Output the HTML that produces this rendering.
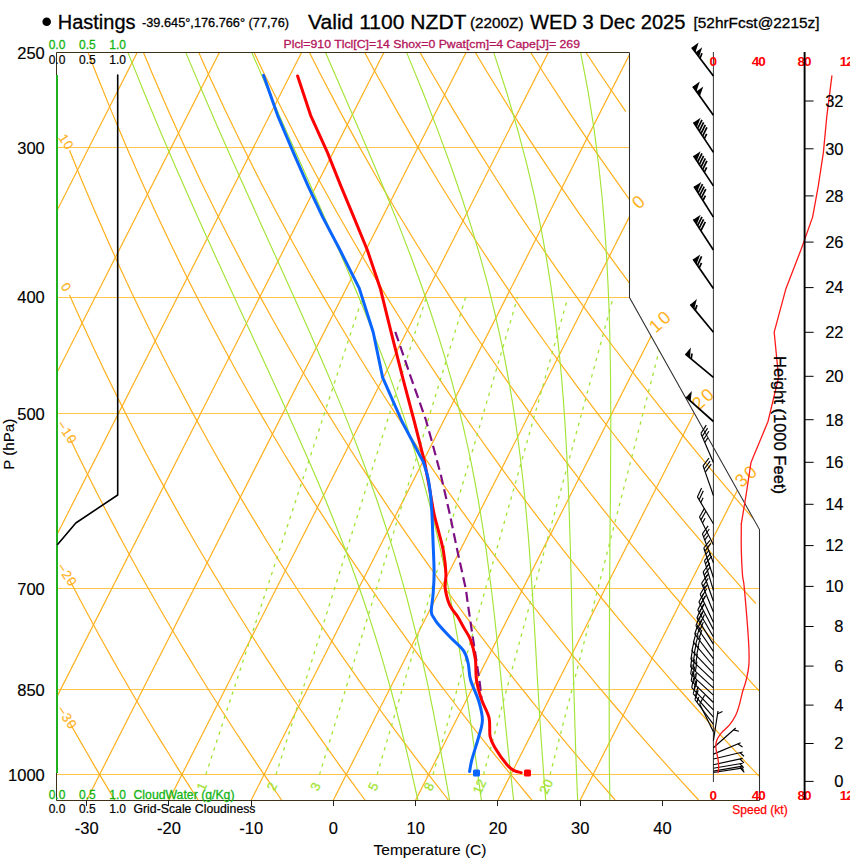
<!DOCTYPE html>
<html><head><meta charset="utf-8"><title>Skew-T Hastings</title>
<style>html,body{margin:0;padding:0;background:#fff;}body{width:850px;height:860px;overflow:hidden;font-family:"Liberation Sans",sans-serif;}svg{display:block;}</style></head>
<body>
<svg width="850" height="860" viewBox="0 0 850 860" font-family="Liberation Sans, sans-serif">
<rect width="850" height="860" fill="#fff"/>
<defs><clipPath id="fr"><polygon points="57.0,800.0 759.1,800.0 759.1,529.6 629.6,297.5 629.6,52.6 57.0,52.6"/></clipPath></defs>
<g clip-path="url(#fr)" fill="none">
<line x1="57.0" y1="147.5" x2="759.1" y2="147.5" stroke="#ffc44d" stroke-width="1"/>
<line x1="57.0" y1="297.5" x2="759.1" y2="297.5" stroke="#ffc44d" stroke-width="1"/>
<line x1="57.0" y1="413.5" x2="759.1" y2="413.5" stroke="#ffc44d" stroke-width="1"/>
<line x1="57.0" y1="588.5" x2="759.1" y2="588.5" stroke="#ffc44d" stroke-width="1"/>
<line x1="57.0" y1="689.5" x2="759.1" y2="689.5" stroke="#ffc44d" stroke-width="1"/>
<line x1="57.0" y1="774.5" x2="759.1" y2="774.5" stroke="#ffc44d" stroke-width="1"/>
<line x1="-653.4" y1="800.0" x2="-263.3" y2="31.4" stroke="#ffb01c" stroke-width="1.2"/>
<line x1="-571.2" y1="800.0" x2="-181.1" y2="31.4" stroke="#ffb01c" stroke-width="1.2"/>
<line x1="-488.9" y1="800.0" x2="-98.9" y2="31.4" stroke="#ffb01c" stroke-width="1.2"/>
<line x1="-406.7" y1="800.0" x2="-16.6" y2="31.4" stroke="#ffb01c" stroke-width="1.2"/>
<line x1="-324.5" y1="800.0" x2="65.6" y2="31.4" stroke="#ffb01c" stroke-width="1.2"/>
<line x1="-242.2" y1="800.0" x2="147.9" y2="31.4" stroke="#ffb01c" stroke-width="1.2"/>
<line x1="-160.0" y1="800.0" x2="230.1" y2="31.4" stroke="#ffb01c" stroke-width="1.2"/>
<line x1="-77.7" y1="800.0" x2="312.3" y2="31.4" stroke="#ffb01c" stroke-width="1.2"/>
<line x1="4.5" y1="800.0" x2="394.6" y2="31.4" stroke="#ffb01c" stroke-width="1.2"/>
<line x1="86.7" y1="800.0" x2="476.8" y2="31.4" stroke="#ffb01c" stroke-width="1.2"/>
<line x1="169.0" y1="800.0" x2="559.0" y2="31.4" stroke="#ffb01c" stroke-width="1.2"/>
<line x1="251.2" y1="800.0" x2="641.3" y2="31.4" stroke="#ffb01c" stroke-width="1.2"/>
<line x1="333.4" y1="800.0" x2="723.5" y2="31.4" stroke="#ffb01c" stroke-width="1.2"/>
<line x1="415.7" y1="800.0" x2="805.7" y2="31.4" stroke="#ffb01c" stroke-width="1.2"/>
<line x1="497.9" y1="800.0" x2="888.0" y2="31.4" stroke="#ffb01c" stroke-width="1.2"/>
<line x1="580.2" y1="800.0" x2="970.2" y2="31.4" stroke="#ffb01c" stroke-width="1.2"/>
<path d="M69.5,722.2 L74.5,731.2 L80.9,742.4 L87.2,753.3 L93.4,764.1 L99.6,774.6 L105.8,784.9 L111.8,795.0 L114.8,800.0" stroke="#ffb01c" stroke-width="1.2"/>
<path d="M69.5,579.8 L74.2,588.8 L82.0,603.5 L89.7,617.8 L97.2,631.7 L104.7,645.2 L112.1,658.4 L119.4,671.2 L126.7,683.8 L133.8,696.0 L140.9,708.0 L147.9,719.7 L154.8,731.2 L161.7,742.4 L168.5,753.3 L175.2,764.1 L181.9,774.6 L188.5,784.9 L195.0,795.0 L198.2,800.0" stroke="#ffb01c" stroke-width="1.2"/>
<path d="M69.5,437.6 L77.3,453.7 L86.6,472.6 L95.9,490.9 L104.9,508.6 L113.9,525.6 L122.7,542.2 L131.4,558.2 L140.0,573.7 L148.5,588.8 L156.9,603.5 L165.1,617.8 L173.3,631.7 L181.3,645.2 L189.3,658.4 L197.1,671.2 L204.9,683.8 L212.6,696.0 L220.2,708.0 L227.7,719.7 L235.1,731.2 L242.5,742.4 L249.8,753.3 L257.0,764.1 L264.1,774.6 L271.2,784.9 L278.1,795.0 L281.6,800.0" stroke="#ffb01c" stroke-width="1.2"/>
<path d="M69.5,294.8 L70.6,297.4 L82.0,322.8 L93.2,347.0 L104.2,370.2 L115.0,392.3 L125.6,413.6 L136.0,434.0 L146.2,453.7 L156.3,472.6 L166.2,490.9 L176.0,508.6 L185.6,525.6 L195.1,542.2 L204.5,558.2 L213.7,573.7 L222.8,588.8 L231.7,603.5 L240.6,617.8 L249.3,631.7 L257.9,645.2 L266.4,658.4 L274.8,671.2 L283.1,683.8 L291.4,696.0 L299.5,708.0 L307.5,719.7 L315.4,731.2 L323.3,742.4 L331.1,753.3 L338.7,764.1 L346.3,774.6 L353.9,784.9 L361.3,795.0 L365.0,800.0" stroke="#ffb01c" stroke-width="1.2"/>
<path d="M69.5,150.2 L82.1,181.2 L95.5,212.8 L108.6,242.5 L121.4,270.7 L133.9,297.4 L146.2,322.8 L158.2,347.0 L170.0,370.2 L181.6,392.3 L193.0,413.6 L204.2,434.0 L215.2,453.7 L226.0,472.6 L236.6,490.9 L247.1,508.6 L257.4,525.6 L267.5,542.2 L277.5,558.2 L287.3,573.7 L297.0,588.8 L306.6,603.5 L316.0,617.8 L325.3,631.7 L334.5,645.2 L343.6,658.4 L352.5,671.2 L361.4,683.8 L370.1,696.0 L378.8,708.0 L387.3,719.7 L395.7,731.2 L404.1,742.4 L412.3,753.3 L420.5,764.1 L428.6,774.6 L436.6,784.9 L444.5,795.0 L448.4,800.0" stroke="#ffb01c" stroke-width="1.2"/>
<path d="M80.0,31.4 L96.0,73.0 L111.6,111.6 L126.7,147.6 L141.5,181.2 L155.9,212.8 L170.0,242.5 L183.7,270.7 L197.2,297.4 L210.4,322.8 L223.3,347.0 L235.9,370.2 L248.3,392.3 L260.5,413.6 L272.4,434.0 L284.1,453.7 L295.7,472.6 L307.0,490.9 L318.1,508.6 L329.1,525.6 L339.9,542.2 L350.5,558.2 L361.0,573.7 L371.3,588.8 L381.4,603.5 L391.5,617.8 L401.4,631.7 L411.1,645.2 L420.7,658.4 L430.2,671.2 L439.6,683.8 L448.9,696.0 L458.0,708.0 L467.1,719.7 L476.0,731.2 L484.9,742.4 L493.6,753.3 L502.3,764.1 L510.8,774.6 L519.3,784.9 L527.6,795.0 L531.8,800.0" stroke="#ffb01c" stroke-width="1.2"/>
<path d="M134.7,31.4 L152.0,73.0 L168.7,111.6 L185.0,147.6 L200.8,181.2 L216.3,212.8 L231.4,242.5 L246.1,270.7 L260.5,297.4 L274.5,322.8 L288.3,347.0 L301.8,370.2 L315.0,392.3 L327.9,413.6 L340.6,434.0 L353.1,453.7 L365.3,472.6 L377.4,490.9 L389.2,508.6 L400.8,525.6 L412.3,542.2 L423.5,558.2 L434.6,573.7 L445.5,588.8 L456.3,603.5 L466.9,617.8 L477.4,631.7 L487.7,645.2 L497.9,658.4 L507.9,671.2 L517.9,683.8 L527.7,696.0 L537.3,708.0 L546.9,719.7 L556.3,731.2 L565.7,742.4 L574.9,753.3 L584.0,764.1 L593.0,774.6 L602.0,784.9 L610.8,795.0 L615.2,800.0" stroke="#ffb01c" stroke-width="1.2"/>
<path d="M189.4,31.4 L207.9,73.0 L225.8,111.6 L243.3,147.6 L260.2,181.2 L276.7,212.8 L292.8,242.5 L308.4,270.7 L323.7,297.4 L338.7,322.8 L353.3,347.0 L367.6,370.2 L381.6,392.3 L395.4,413.6 L408.8,434.0 L422.0,453.7 L435.0,472.6 L447.7,490.9 L460.2,508.6 L472.5,525.6 L484.6,542.2 L496.5,558.2 L508.3,573.7 L519.8,588.8 L531.2,603.5 L542.4,617.8 L553.4,631.7 L564.3,645.2 L575.0,658.4 L585.6,671.2 L596.1,683.8 L606.4,696.0 L616.6,708.0 L626.7,719.7 L636.6,731.2 L646.5,742.4 L656.2,753.3 L665.8,764.1 L675.3,774.6 L684.7,784.9 L694.0,795.0 L698.6,800.0" stroke="#ffb01c" stroke-width="1.2"/>
<path d="M244.1,31.4 L263.8,73.0 L283.0,111.6 L301.5,147.6 L319.6,181.2 L337.1,212.8 L354.2,242.5 L370.8,270.7 L387.0,297.4 L402.9,322.8 L418.3,347.0 L433.5,370.2 L448.3,392.3 L462.8,413.6 L477.0,434.0 L491.0,453.7 L504.7,472.6 L518.1,490.9 L531.3,508.6 L544.3,525.6 L557.0,542.2 L569.6,558.2 L581.9,573.7 L594.1,588.8 L606.0,603.5 L617.8,617.8 L629.4,631.7 L640.9,645.2 L652.2,658.4 L663.3,671.2 L674.3,683.8 L685.2,696.0 L695.9,708.0 L706.5,719.7 L716.9,731.2 L727.3,742.4 L737.5,753.3 L747.5,764.1 L757.5,774.6 L759.0,776.2" stroke="#ffb01c" stroke-width="1.2"/>
<path d="M298.8,31.4 L319.8,73.0 L340.1,111.6 L359.8,147.6 L378.9,181.2 L397.5,212.8 L415.6,242.5 L433.2,270.7 L450.3,297.4 L467.0,322.8 L483.4,347.0 L499.3,370.2 L515.0,392.3 L530.3,413.6 L545.2,434.0 L559.9,453.7 L574.3,472.6 L588.5,490.9 L602.4,508.6 L616.0,525.6 L629.4,542.2 L642.6,558.2 L655.6,573.7 L668.3,588.8 L680.9,603.5 L693.3,617.8 L705.5,631.7 L717.5,645.2 L729.3,658.4 L741.0,671.2 L752.6,683.8 L759.4,691.2" stroke="#ffb01c" stroke-width="1.2"/>
<path d="M353.4,31.4 L375.7,73.0 L397.3,111.6 L418.1,147.6 L438.3,181.2 L457.9,212.8 L477.0,242.5 L495.5,270.7 L513.6,297.4 L531.2,322.8 L548.4,347.0 L565.2,370.2 L581.6,392.3 L597.7,413.6 L613.5,434.0 L628.9,453.7 L644.0,472.6 L658.8,490.9 L673.4,508.6 L687.7,525.6 L701.8,542.2 L715.6,558.2 L729.2,573.7 L742.6,588.8 L755.8,603.5" stroke="#ffb01c" stroke-width="1.2"/>
<path d="M408.1,31.4 L431.7,73.0 L454.4,111.6 L476.4,147.6 L497.7,181.2 L518.3,212.8 L538.4,242.5 L557.9,270.7 L576.9,297.4 L595.4,322.8 L613.4,347.0 L631.1,370.2 L648.3,392.3 L665.2,413.6 L681.7,434.0 L697.8,453.7 L713.7,472.6 L729.2,490.9 L744.5,508.6 L758.0,524.0" stroke="#ffb01c" stroke-width="1.2"/>
<path d="M462.8,31.4 L487.6,73.0 L511.5,111.6 L534.7,147.6 L557.0,181.2 L578.7,212.8 L599.8,242.5 L620.2,270.7 L635.2,290.8" stroke="#ffb01c" stroke-width="1.2"/>
<path d="M517.5,31.4 L543.6,73.0 L568.7,111.6 L592.9,147.6 L616.4,181.2 L632.4,203.5" stroke="#ffb01c" stroke-width="1.2"/>
<path d="M572.1,31.4 L599.5,73.0 L625.8,111.6" stroke="#ffb01c" stroke-width="1.2"/>
<path d="M626.8,31.4 L655.4,73.0 L683.0,111.6 L709.5,147.6 L735.1,181.2 L759.9,212.8 L784.0,242.5 L807.3,270.7 L830.0,297.4 L852.0,322.8 L873.5,347.0 L894.5,370.2 L915.0,392.3 L934.9,413.6 L954.5,434.0 L973.6,453.7 L992.4,472.6 L1010.7,490.9 L1028.7,508.6 L1046.4,525.6 L1063.7,542.2 L1080.7,558.2 L1097.4,573.7 L1113.9,588.8 L1130.1,603.5 L1146.0,617.8 L1161.6,631.7 L1177.1,645.2 L1192.3,658.4 L1207.2,671.2 L1222.0,683.8 L1236.5,696.0 L1250.9,708.0 L1265.0,719.7 L1279.0,731.2 L1292.8,742.4 L1306.4,753.3 L1319.9,764.1 L1333.2,774.6 L1346.3,784.9 L1359.3,795.0 L1365.7,800.0" stroke="#ffb01c" stroke-width="1.2"/>
<path d="M609.9,800.0 L609.7,790.0 L609.6,779.8 L609.4,769.4 L609.3,758.7 L609.3,747.9 L609.2,736.8 L609.2,725.5 L609.2,713.9 L609.2,702.1 L609.2,690.0 L609.2,677.6 L609.3,664.8 L609.3,651.8 L609.4,638.5 L609.5,624.8 L609.5,610.7 L609.6,596.2 L609.6,581.3 L609.8,566.0 L609.9,550.2 L610.0,534.0 L610.2,517.2 L610.4,499.8 L610.5,481.8 L610.6,463.2 L610.7,444.0 L610.8,423.9 L610.7,403.1 L610.6,381.4 L610.3,358.7 L609.8,335.1 L609.1,310.3 L608.0,284.2 L606.6,256.8 L604.7,227.9 L602.1,197.2 L598.6,164.7 L594.2,129.9 L588.3,92.7 L580.7,52.6" stroke="#a3e436" stroke-width="1.15"/>
<path d="M577.7,800.0 L577.2,790.0 L576.8,779.8 L576.4,769.4 L576.0,758.7 L575.6,747.9 L575.3,736.8 L574.9,725.5 L574.6,713.9 L574.2,702.1 L573.9,690.0 L573.5,677.6 L573.2,664.8 L572.8,651.8 L572.5,638.5 L572.1,624.8 L571.8,610.7 L571.5,596.2 L571.2,581.3 L570.8,566.0 L570.4,550.2 L569.9,534.0 L569.4,517.2 L568.8,499.8 L568.1,481.8 L567.2,463.2 L566.2,444.0 L565.0,423.9 L563.6,403.1 L561.9,381.4 L559.8,358.7 L557.3,335.1 L554.2,310.3 L550.6,284.2 L546.2,256.8 L540.9,227.9 L534.6,197.2 L526.9,164.7 L517.7,129.9 L506.8,92.7 L493.8,52.6" stroke="#a3e436" stroke-width="1.15"/>
<path d="M545.7,800.0 L544.9,790.0 L544.1,779.8 L543.3,769.4 L542.6,758.7 L541.8,747.9 L541.0,736.8 L540.3,725.5 L539.5,713.9 L538.8,702.1 L538.1,690.0 L537.3,677.6 L536.6,664.8 L535.9,651.8 L535.1,638.5 L534.3,624.8 L533.5,610.7 L532.6,596.2 L531.6,581.3 L530.5,566.0 L529.4,550.2 L528.1,534.0 L526.6,517.2 L525.0,499.8 L523.1,481.8 L521.0,463.2 L518.6,444.0 L515.8,423.9 L512.6,403.1 L508.9,381.4 L504.7,358.7 L499.8,335.1 L494.2,310.3 L487.7,284.2 L480.2,256.8 L471.6,227.9 L461.7,197.2 L450.4,164.7 L437.6,129.9 L423.1,92.7 L406.7,52.6" stroke="#a3e436" stroke-width="1.15"/>
<path d="M513.6,800.0 L512.5,790.0 L511.4,779.8 L510.2,769.4 L509.1,758.7 L507.9,747.9 L506.8,736.8 L505.6,725.5 L504.5,713.9 L503.3,702.1 L502.1,690.0 L500.9,677.6 L499.6,664.8 L498.3,651.8 L496.9,638.5 L495.4,624.8 L493.9,610.7 L492.2,596.2 L490.3,581.3 L488.3,566.0 L486.2,550.2 L483.8,534.0 L481.1,517.2 L478.2,499.8 L474.9,481.8 L471.3,463.2 L467.2,444.0 L462.6,423.9 L457.5,403.1 L451.8,381.4 L445.3,358.7 L438.1,335.1 L430.0,310.3 L421.0,284.2 L411.0,256.8 L399.8,227.9 L387.5,197.2 L374.0,164.7 L359.2,129.9 L343.0,92.7 L325.5,52.6" stroke="#a3e436" stroke-width="1.15"/>
<path d="M481.4,800.0 L480.0,790.0 L478.6,779.8 L477.2,769.4 L475.7,758.7 L474.3,747.9 L472.7,736.8 L471.1,725.5 L469.4,713.9 L467.6,702.1 L465.8,690.0 L463.9,677.6 L461.9,664.8 L459.8,651.8 L457.6,638.5 L455.2,624.8 L452.7,610.7 L450.0,596.2 L447.1,581.3 L444.0,566.0 L440.6,550.2 L436.9,534.0 L432.9,517.2 L428.4,499.8 L423.6,481.8 L418.3,463.2 L412.5,444.0 L406.2,423.9 L399.2,403.1 L391.6,381.4 L383.2,358.7 L374.1,335.1 L364.2,310.3 L353.4,284.2 L341.8,256.8 L329.2,227.9 L315.7,197.2 L301.3,164.7 L285.8,129.9 L269.3,92.7 L251.8,52.6" stroke="#a3e436" stroke-width="1.15"/>
<path d="M449.6,800.0 L447.8,790.0 L446.0,779.8 L444.1,769.4 L442.1,758.7 L440.2,747.9 L438.1,736.8 L435.9,725.5 L433.7,713.9 L431.3,702.1 L428.9,690.0 L426.2,677.6 L423.4,664.8 L420.4,651.8 L417.2,638.5 L413.8,624.8 L410.2,610.7 L406.4,596.2 L402.3,581.3 L397.9,566.0 L393.2,550.2 L388.1,534.0 L382.6,517.2 L376.8,499.8 L370.4,481.8 L363.6,463.2 L356.3,444.0 L348.4,423.9 L340.0,403.1 L330.9,381.4 L321.2,358.7 L310.9,335.1 L299.9,310.3 L288.2,284.2 L275.8,256.8 L262.7,227.9 L248.9,197.2 L234.3,164.7 L218.9,129.9 L202.8,92.7 L185.8,52.6" stroke="#a3e436" stroke-width="1.15"/>
<path d="M417.9,800.0 L415.6,790.0 L413.3,779.8 L410.9,769.4 L408.4,758.7 L405.8,747.9 L403.1,736.8 L400.3,725.5 L397.3,713.9 L394.2,702.1 L391.0,690.0 L387.5,677.6 L383.9,664.8 L380.1,651.8 L376.0,638.5 L371.7,624.8 L367.1,610.7 L362.2,596.2 L357.0,581.3 L351.5,566.0 L345.6,550.2 L339.2,534.0 L332.5,517.2 L325.4,499.8 L317.9,481.8 L309.9,463.2 L301.4,444.0 L292.5,423.9 L283.1,403.1 L273.2,381.4 L262.8,358.7 L251.8,335.1 L240.3,310.3 L228.3,284.2 L215.7,256.8 L202.6,227.9 L188.9,197.2 L174.6,164.7 L159.7,129.9 L144.2,92.7 L128.0,52.6" stroke="#a3e436" stroke-width="1.15"/>
<line x1="550.1" y1="774.6" x2="672.8" y2="297.4" stroke="#a3e436" stroke-width="1.3" stroke-dasharray="3.4 5"/>
<line x1="483.5" y1="774.6" x2="613.2" y2="297.4" stroke="#a3e436" stroke-width="1.3" stroke-dasharray="3.4 5"/>
<line x1="433.0" y1="774.6" x2="567.9" y2="297.4" stroke="#a3e436" stroke-width="1.3" stroke-dasharray="3.4 5"/>
<line x1="377.1" y1="774.6" x2="517.6" y2="297.4" stroke="#a3e436" stroke-width="1.3" stroke-dasharray="3.4 5"/>
<line x1="319.5" y1="774.6" x2="465.6" y2="297.4" stroke="#a3e436" stroke-width="1.3" stroke-dasharray="3.4 5"/>
<line x1="276.0" y1="774.6" x2="426.2" y2="297.4" stroke="#a3e436" stroke-width="1.3" stroke-dasharray="3.4 5"/>
<line x1="205.8" y1="774.6" x2="362.5" y2="297.4" stroke="#a3e436" stroke-width="1.3" stroke-dasharray="3.4 5"/>
</g>
<text x="0" y="0" transform="translate(546.1,786.6) rotate(-65)" font-size="13" fill="#a3e436" text-anchor="middle" dominant-baseline="central" stroke="#a3e436" stroke-width="0.3">20</text>
<text x="0" y="0" transform="translate(479.5,786.6) rotate(-65)" font-size="13" fill="#a3e436" text-anchor="middle" dominant-baseline="central" stroke="#a3e436" stroke-width="0.3">12</text>
<text x="0" y="0" transform="translate(429.0,786.6) rotate(-65)" font-size="13" fill="#a3e436" text-anchor="middle" dominant-baseline="central" stroke="#a3e436" stroke-width="0.3">8</text>
<text x="0" y="0" transform="translate(373.1,786.6) rotate(-65)" font-size="13" fill="#a3e436" text-anchor="middle" dominant-baseline="central" stroke="#a3e436" stroke-width="0.3">5</text>
<text x="0" y="0" transform="translate(315.5,786.6) rotate(-65)" font-size="13" fill="#a3e436" text-anchor="middle" dominant-baseline="central" stroke="#a3e436" stroke-width="0.3">3</text>
<text x="0" y="0" transform="translate(272.0,786.6) rotate(-65)" font-size="13" fill="#a3e436" text-anchor="middle" dominant-baseline="central" stroke="#a3e436" stroke-width="0.3">2</text>
<text x="0" y="0" transform="translate(201.8,786.6) rotate(-65)" font-size="13" fill="#a3e436" text-anchor="middle" dominant-baseline="central" stroke="#a3e436" stroke-width="0.3">1</text>
<text transform="translate(67.0,717.7) rotate(56)" font-size="13.2" fill="#ffb01c" letter-spacing="1" text-anchor="middle" dominant-baseline="central" stroke="#ffb01c" stroke-width="0.15">−30</text>
<text transform="translate(67.0,575.0) rotate(56)" font-size="13.2" fill="#ffb01c" letter-spacing="1" text-anchor="middle" dominant-baseline="central" stroke="#ffb01c" stroke-width="0.15">−20</text>
<text transform="translate(67.0,432.4) rotate(56)" font-size="13.2" fill="#ffb01c" letter-spacing="1" text-anchor="middle" dominant-baseline="central" stroke="#ffb01c" stroke-width="0.15">−10</text>
<text transform="translate(66.3,287.4) rotate(56)" font-size="13.2" fill="#ffb01c" letter-spacing="1" text-anchor="middle" dominant-baseline="central" stroke="#ffb01c" stroke-width="0.15">0</text>
<text transform="translate(66.3,142.1) rotate(56)" font-size="13.2" fill="#ffb01c" letter-spacing="1" text-anchor="middle" dominant-baseline="central" stroke="#ffb01c" stroke-width="0.15">10</text>
<text transform="translate(639.1,201.6) rotate(-42)" font-size="18" fill="#ffb01c" text-anchor="middle" letter-spacing="2" dominant-baseline="central">0</text>
<text transform="translate(660.6,321.2) rotate(-42)" font-size="18" fill="#ffb01c" text-anchor="middle" letter-spacing="2" dominant-baseline="central">10</text>
<text transform="translate(703.7,398.5) rotate(-42)" font-size="18" fill="#ffb01c" text-anchor="middle" letter-spacing="2" dominant-baseline="central">20</text>
<text transform="translate(746.7,475.7) rotate(-42)" font-size="18" fill="#ffb01c" text-anchor="middle" letter-spacing="2" dominant-baseline="central">30</text>
<polyline points="759.5,800.5 56.5,800.5 56.5,52.5 629.5,52.5" fill="none" stroke="#3c3018" stroke-width="1"/>
<polyline points="629.5,52.5 629.5,297.5 759.5,529.6 759.5,800.5" fill="none" stroke="#303030" stroke-width="1.05"/>
<line x1="57" y1="75" x2="57" y2="773" stroke="#1fb01f" stroke-width="2"/>
<path d="M117.7,75.0 L117.7,495.0 L75.8,523.0 L57.6,544.5" fill="none" stroke="#000" stroke-width="1.6" stroke-linejoin="round" stroke-linecap="round" />
<path d="M395.3,331.8 L410.6,376.5 L425.9,420.0 L431.5,440.0 L441.2,476.5 L450.0,515.0 L457.6,551.8 L465.9,589.4 L468.0,605.0 L470.5,622.0 L471.8,630.6 L476.5,661.2 L480.0,684.7 L481.6,698.8" fill="none" stroke="#7d0f82" stroke-width="2.2" stroke-dasharray="10 5"/>
<path d="M297.6,76.0 L310.6,115.3 L327.4,152.4 L340.8,185.9 L353.8,217.1 L367.3,250.0 L380.3,288.4 L391.1,332.2 L402.6,377.4 L414.3,421.5 L424.7,462.4" fill="none" stroke="#ff0000" stroke-width="3.0" stroke-linejoin="round" stroke-linecap="round" />
<path d="M424.7,462.4 C425.2,465.3 426.9,474.2 428.0,480.0 C429.1,485.8 430.0,491.3 431.0,497.0 C432.0,502.7 432.8,508.1 434.1,514.1 C435.4,520.1 437.4,526.7 439.0,533.0 C440.6,539.3 442.4,545.1 443.5,551.8 C444.6,558.4 445.6,566.8 445.9,572.9 C446.2,579.0 444.8,583.5 445.2,588.2 C445.6,592.9 447.1,597.7 448.2,601.2 C449.3,604.7 450.4,606.5 452.0,609.0 C453.6,611.5 455.6,613.3 457.6,616.5 C459.6,619.7 461.8,624.1 464.0,628.0 C466.2,631.9 468.7,634.9 470.6,640.0 C472.5,645.1 474.3,652.1 475.3,658.8 C476.3,665.5 475.5,673.3 476.5,680.0 C477.5,686.7 479.1,692.5 481.2,698.8 C483.3,705.1 487.5,711.3 489.0,717.6 C490.5,723.9 489.1,731.4 490.1,736.5 C491.2,741.6 492.5,743.5 495.3,748.2 C498.1,752.9 503.9,761.0 507.0,764.7 C510.1,768.4 511.7,769.3 514.1,770.6 C516.5,771.9 520.0,772.3 521.2,772.6" fill="none" stroke="#ff0000" stroke-width="3.0" stroke-linejoin="round" stroke-linecap="round" />
<path d="M263.5,75.3 L277.6,115.3 L293.3,152.4 L308.0,185.9 L322.7,217.1 L340.0,250.0 L359.3,288.4 L373.2,332.2 L382.6,377.4 L402.0,421.5 L423.5,462.4" fill="none" stroke="#0a64ff" stroke-width="3.0" stroke-linejoin="round" stroke-linecap="round" />
<path d="M423.5,462.4 C424.2,465.0 426.8,472.5 428.0,478.0 C429.2,483.5 429.9,489.1 430.6,495.3 C431.3,501.5 431.6,507.9 432.0,515.0 C432.4,522.0 432.5,528.0 432.9,537.6 C433.2,547.2 434.1,563.3 434.1,572.9 C434.1,582.5 433.5,588.5 433.0,595.0 C432.5,601.5 431.1,608.0 431.3,611.8 C431.5,615.6 432.9,616.0 434.0,618.0 C435.1,620.0 434.9,620.3 437.6,623.5 C440.3,626.7 445.7,632.5 450.0,637.0 C454.3,641.5 460.5,646.2 463.5,650.6 C466.5,655.0 467.0,658.6 468.2,663.5 C469.4,668.4 468.8,673.7 470.6,680.0 C472.4,686.3 476.8,694.5 478.8,701.2 C480.8,707.9 482.4,714.1 482.4,720.0 C482.4,725.9 480.6,729.8 478.8,736.5 C477.0,743.2 473.3,754.2 471.8,760.0 C470.3,765.8 470.0,769.6 469.6,771.5" fill="none" stroke="#0a64ff" stroke-width="3.0" stroke-linejoin="round" stroke-linecap="round" />
<rect x="473" y="769.5" width="7" height="7" rx="1.5" fill="#0a64ff"/>
<rect x="524" y="769.5" width="7" height="7" rx="1.5" fill="#ff0000"/>
<line x1="713.4" y1="52" x2="713.4" y2="782" stroke="#333" stroke-width="1"/>
<line x1="713.4" y1="75.9" x2="691.8" y2="47.6" stroke="#000" stroke-width="1.7"/>
<polygon points="691.8,47.6 698.6,42.4 695.4,52.4" fill="#000"/>
<polygon points="695.4,52.4 702.2,47.2 699.1,57.1" fill="#000"/>
<line x1="700.0" y1="58.3" x2="702.0" y2="53.3" stroke="#000" stroke-width="1.7"/>
<line x1="713.4" y1="115.3" x2="692.9" y2="86.5" stroke="#000" stroke-width="1.7"/>
<polygon points="692.9,86.5 699.8,81.6 696.4,91.4" fill="#000"/>
<polygon points="696.4,91.4 703.3,86.5 699.9,96.3" fill="#000"/>
<line x1="713.4" y1="152.4" x2="693.5" y2="122.4" stroke="#000" stroke-width="1.7"/>
<polygon points="693.5,122.4 700.6,117.7 696.8,127.4" fill="#000"/>
<line x1="697.6" y1="128.6" x2="702.0" y2="119.8" stroke="#000" stroke-width="1.7"/>
<line x1="699.3" y1="131.1" x2="703.6" y2="122.3" stroke="#000" stroke-width="1.7"/>
<line x1="701.0" y1="133.6" x2="705.3" y2="124.8" stroke="#000" stroke-width="1.7"/>
<line x1="702.6" y1="136.1" x2="706.9" y2="127.3" stroke="#000" stroke-width="1.7"/>
<line x1="704.3" y1="138.6" x2="706.7" y2="133.8" stroke="#000" stroke-width="1.7"/>
<line x1="713.4" y1="185.9" x2="693.5" y2="155.9" stroke="#000" stroke-width="1.7"/>
<polygon points="693.5,155.9 700.6,151.2 696.8,160.9" fill="#000"/>
<line x1="697.6" y1="162.1" x2="702.0" y2="153.3" stroke="#000" stroke-width="1.7"/>
<line x1="699.3" y1="164.6" x2="703.6" y2="155.8" stroke="#000" stroke-width="1.7"/>
<line x1="701.0" y1="167.1" x2="705.3" y2="158.3" stroke="#000" stroke-width="1.7"/>
<line x1="702.6" y1="169.6" x2="706.9" y2="160.8" stroke="#000" stroke-width="1.7"/>
<line x1="704.3" y1="172.1" x2="706.7" y2="167.3" stroke="#000" stroke-width="1.7"/>
<line x1="713.4" y1="217.1" x2="694.1" y2="186.5" stroke="#000" stroke-width="1.7"/>
<polygon points="694.1,186.5 701.3,182.0 697.3,191.6" fill="#000"/>
<line x1="698.1" y1="192.8" x2="702.6" y2="184.1" stroke="#000" stroke-width="1.7"/>
<line x1="699.7" y1="195.4" x2="704.2" y2="186.6" stroke="#000" stroke-width="1.7"/>
<line x1="701.3" y1="197.9" x2="705.8" y2="189.2" stroke="#000" stroke-width="1.7"/>
<line x1="702.9" y1="200.5" x2="705.4" y2="195.6" stroke="#000" stroke-width="1.7"/>
<line x1="713.4" y1="250.0" x2="693.5" y2="219.4" stroke="#000" stroke-width="1.7"/>
<polygon points="693.5,219.4 700.6,214.8 696.8,224.4" fill="#000"/>
<line x1="697.6" y1="225.7" x2="702.0" y2="216.9" stroke="#000" stroke-width="1.7"/>
<line x1="699.2" y1="228.2" x2="703.6" y2="219.4" stroke="#000" stroke-width="1.7"/>
<line x1="700.9" y1="230.7" x2="705.3" y2="221.9" stroke="#000" stroke-width="1.7"/>
<line x1="713.4" y1="288.4" x2="693.2" y2="259.2" stroke="#000" stroke-width="1.7"/>
<polygon points="693.2,259.2 700.2,254.4 696.6,264.1" fill="#000"/>
<line x1="697.5" y1="265.4" x2="701.6" y2="256.4" stroke="#000" stroke-width="1.7"/>
<line x1="699.2" y1="267.8" x2="701.5" y2="262.9" stroke="#000" stroke-width="1.7"/>
<line x1="713.4" y1="332.2" x2="690.4" y2="304.4" stroke="#000" stroke-width="1.7"/>
<polygon points="690.4,304.4 696.9,299.0 694.2,309.0" fill="#000"/>
<line x1="695.2" y1="310.2" x2="697.0" y2="305.1" stroke="#000" stroke-width="1.7"/>
<line x1="713.4" y1="377.4" x2="685.4" y2="354.1" stroke="#000" stroke-width="1.7"/>
<polygon points="685.4,354.1 690.8,347.6 690.0,357.9" fill="#000"/>
<line x1="691.2" y1="358.9" x2="692.0" y2="353.5" stroke="#000" stroke-width="1.7"/>
<line x1="713.4" y1="421.5" x2="686.1" y2="397.2" stroke="#000" stroke-width="1.7"/>
<polygon points="686.1,397.2 691.8,390.9 690.6,401.2" fill="#000"/>
<line x1="713.4" y1="462.4" x2="700.9" y2="433.4" stroke="#000" stroke-width="1.15"/>
<line x1="700.9" y1="433.4" x2="706.3" y2="425.1" stroke="#000" stroke-width="1.15"/>
<line x1="702.2" y1="436.4" x2="707.6" y2="428.1" stroke="#000" stroke-width="1.15"/>
<line x1="703.5" y1="439.5" x2="708.9" y2="431.2" stroke="#000" stroke-width="1.15"/>
<line x1="704.8" y1="442.5" x2="707.8" y2="437.9" stroke="#000" stroke-width="1.15"/>
<line x1="713.4" y1="495.5" x2="703.1" y2="465.9" stroke="#000" stroke-width="1.15"/>
<line x1="703.1" y1="465.9" x2="709.0" y2="458.0" stroke="#000" stroke-width="1.15"/>
<line x1="704.2" y1="469.0" x2="710.1" y2="461.1" stroke="#000" stroke-width="1.15"/>
<line x1="705.3" y1="472.1" x2="711.2" y2="464.2" stroke="#000" stroke-width="1.15"/>
<line x1="713.4" y1="523.8" x2="697.4" y2="496.9" stroke="#000" stroke-width="1.15"/>
<line x1="697.4" y1="496.9" x2="701.6" y2="488.0" stroke="#000" stroke-width="1.15"/>
<line x1="699.1" y1="499.7" x2="703.3" y2="490.8" stroke="#000" stroke-width="1.15"/>
<line x1="700.8" y1="502.6" x2="703.1" y2="497.7" stroke="#000" stroke-width="1.15"/>
<line x1="713.4" y1="544.7" x2="699.5" y2="517.0" stroke="#000" stroke-width="1.15"/>
<line x1="699.5" y1="517.0" x2="704.4" y2="508.4" stroke="#000" stroke-width="1.15"/>
<line x1="701.0" y1="519.9" x2="705.8" y2="511.3" stroke="#000" stroke-width="1.15"/>
<line x1="702.5" y1="522.9" x2="705.1" y2="518.2" stroke="#000" stroke-width="1.15"/>
<line x1="713.4" y1="562.9" x2="702.4" y2="533.9" stroke="#000" stroke-width="1.15"/>
<line x1="702.4" y1="533.9" x2="708.1" y2="525.9" stroke="#000" stroke-width="1.15"/>
<line x1="703.6" y1="537.0" x2="709.3" y2="529.0" stroke="#000" stroke-width="1.15"/>
<line x1="704.7" y1="540.1" x2="707.9" y2="535.7" stroke="#000" stroke-width="1.15"/>
<line x1="713.4" y1="577.5" x2="703.8" y2="548.0" stroke="#000" stroke-width="1.15"/>
<line x1="703.8" y1="548.0" x2="709.9" y2="540.3" stroke="#000" stroke-width="1.15"/>
<line x1="704.8" y1="551.2" x2="710.9" y2="543.4" stroke="#000" stroke-width="1.15"/>
<line x1="705.8" y1="554.3" x2="709.2" y2="550.0" stroke="#000" stroke-width="1.15"/>
<line x1="713.4" y1="590.4" x2="704.5" y2="560.7" stroke="#000" stroke-width="1.15"/>
<line x1="704.5" y1="560.7" x2="710.8" y2="553.1" stroke="#000" stroke-width="1.15"/>
<line x1="705.4" y1="563.9" x2="711.7" y2="556.2" stroke="#000" stroke-width="1.15"/>
<line x1="706.4" y1="567.0" x2="709.8" y2="562.8" stroke="#000" stroke-width="1.15"/>
<line x1="713.4" y1="601.2" x2="703.1" y2="572.0" stroke="#000" stroke-width="1.15"/>
<line x1="703.1" y1="572.0" x2="709.0" y2="564.0" stroke="#000" stroke-width="1.15"/>
<line x1="704.2" y1="575.1" x2="710.1" y2="567.2" stroke="#000" stroke-width="1.15"/>
<line x1="705.3" y1="578.2" x2="708.5" y2="573.8" stroke="#000" stroke-width="1.15"/>
<line x1="713.4" y1="612.0" x2="701.6" y2="583.3" stroke="#000" stroke-width="1.15"/>
<line x1="701.6" y1="583.3" x2="707.1" y2="575.1" stroke="#000" stroke-width="1.15"/>
<line x1="702.9" y1="586.4" x2="708.3" y2="578.2" stroke="#000" stroke-width="1.15"/>
<line x1="704.1" y1="589.4" x2="707.1" y2="584.9" stroke="#000" stroke-width="1.15"/>
<line x1="713.4" y1="622.2" x2="700.2" y2="594.2" stroke="#000" stroke-width="1.15"/>
<line x1="700.2" y1="594.2" x2="705.3" y2="585.7" stroke="#000" stroke-width="1.15"/>
<line x1="701.6" y1="597.1" x2="706.7" y2="588.7" stroke="#000" stroke-width="1.15"/>
<line x1="703.0" y1="600.1" x2="705.8" y2="595.5" stroke="#000" stroke-width="1.15"/>
<line x1="713.4" y1="629.5" x2="698.9" y2="602.1" stroke="#000" stroke-width="1.15"/>
<line x1="698.9" y1="602.1" x2="703.6" y2="593.4" stroke="#000" stroke-width="1.15"/>
<line x1="700.4" y1="605.0" x2="705.1" y2="596.3" stroke="#000" stroke-width="1.15"/>
<line x1="702.0" y1="607.9" x2="704.6" y2="603.2" stroke="#000" stroke-width="1.15"/>
<line x1="713.4" y1="636.8" x2="697.8" y2="610.0" stroke="#000" stroke-width="1.15"/>
<line x1="697.8" y1="610.0" x2="702.1" y2="601.2" stroke="#000" stroke-width="1.15"/>
<line x1="699.4" y1="612.9" x2="703.7" y2="604.0" stroke="#000" stroke-width="1.15"/>
<line x1="701.1" y1="615.7" x2="703.5" y2="610.8" stroke="#000" stroke-width="1.15"/>
<line x1="713.4" y1="644.1" x2="696.9" y2="617.9" stroke="#000" stroke-width="1.15"/>
<line x1="696.9" y1="617.9" x2="700.9" y2="608.9" stroke="#000" stroke-width="1.15"/>
<line x1="698.6" y1="620.7" x2="702.6" y2="611.6" stroke="#000" stroke-width="1.15"/>
<line x1="700.4" y1="623.5" x2="704.4" y2="614.4" stroke="#000" stroke-width="1.15"/>
<line x1="713.4" y1="651.4" x2="695.9" y2="625.8" stroke="#000" stroke-width="1.15"/>
<line x1="695.9" y1="625.8" x2="699.6" y2="616.6" stroke="#000" stroke-width="1.15"/>
<line x1="697.8" y1="628.5" x2="701.5" y2="619.4" stroke="#000" stroke-width="1.15"/>
<line x1="699.6" y1="631.2" x2="703.3" y2="622.1" stroke="#000" stroke-width="1.15"/>
<line x1="713.4" y1="658.7" x2="694.7" y2="634.0" stroke="#000" stroke-width="1.15"/>
<line x1="694.7" y1="634.0" x2="697.9" y2="624.7" stroke="#000" stroke-width="1.15"/>
<line x1="696.7" y1="636.6" x2="699.9" y2="627.3" stroke="#000" stroke-width="1.15"/>
<line x1="698.7" y1="639.3" x2="701.9" y2="629.9" stroke="#000" stroke-width="1.15"/>
<line x1="713.4" y1="666.0" x2="693.4" y2="642.3" stroke="#000" stroke-width="1.15"/>
<line x1="693.4" y1="642.3" x2="696.1" y2="632.8" stroke="#000" stroke-width="1.15"/>
<line x1="695.5" y1="644.8" x2="698.2" y2="635.3" stroke="#000" stroke-width="1.15"/>
<line x1="697.7" y1="647.4" x2="700.4" y2="637.9" stroke="#000" stroke-width="1.15"/>
<line x1="713.4" y1="673.3" x2="691.9" y2="650.9" stroke="#000" stroke-width="1.15"/>
<line x1="691.9" y1="650.9" x2="694.0" y2="641.3" stroke="#000" stroke-width="1.15"/>
<line x1="694.2" y1="653.3" x2="696.3" y2="643.7" stroke="#000" stroke-width="1.15"/>
<line x1="696.5" y1="655.7" x2="698.6" y2="646.1" stroke="#000" stroke-width="1.15"/>
<line x1="713.4" y1="680.6" x2="690.9" y2="659.3" stroke="#000" stroke-width="1.15"/>
<line x1="690.9" y1="659.3" x2="692.5" y2="649.6" stroke="#000" stroke-width="1.15"/>
<line x1="693.3" y1="661.6" x2="694.9" y2="651.8" stroke="#000" stroke-width="1.15"/>
<line x1="695.7" y1="663.8" x2="697.3" y2="654.1" stroke="#000" stroke-width="1.15"/>
<line x1="713.4" y1="687.9" x2="690.6" y2="666.9" stroke="#000" stroke-width="1.15"/>
<line x1="690.6" y1="666.9" x2="692.0" y2="657.2" stroke="#000" stroke-width="1.15"/>
<line x1="693.0" y1="669.2" x2="694.5" y2="659.4" stroke="#000" stroke-width="1.15"/>
<line x1="695.4" y1="671.4" x2="696.9" y2="661.6" stroke="#000" stroke-width="1.15"/>
<line x1="713.4" y1="695.2" x2="690.7" y2="674.1" stroke="#000" stroke-width="1.15"/>
<line x1="690.7" y1="674.1" x2="692.2" y2="664.4" stroke="#000" stroke-width="1.15"/>
<line x1="693.1" y1="676.4" x2="694.6" y2="666.6" stroke="#000" stroke-width="1.15"/>
<line x1="695.5" y1="678.6" x2="696.4" y2="673.2" stroke="#000" stroke-width="1.15"/>
<line x1="713.4" y1="702.5" x2="691.2" y2="680.9" stroke="#000" stroke-width="1.15"/>
<line x1="691.2" y1="680.9" x2="693.0" y2="671.2" stroke="#000" stroke-width="1.15"/>
<line x1="693.6" y1="683.2" x2="695.3" y2="673.5" stroke="#000" stroke-width="1.15"/>
<line x1="695.9" y1="685.5" x2="696.9" y2="680.1" stroke="#000" stroke-width="1.15"/>
<line x1="713.4" y1="709.8" x2="691.7" y2="687.6" stroke="#000" stroke-width="1.15"/>
<line x1="691.7" y1="687.6" x2="693.7" y2="678.0" stroke="#000" stroke-width="1.15"/>
<line x1="694.0" y1="690.0" x2="696.0" y2="680.3" stroke="#000" stroke-width="1.15"/>
<line x1="713.4" y1="717.1" x2="693.2" y2="693.6" stroke="#000" stroke-width="1.15"/>
<line x1="693.2" y1="693.6" x2="695.9" y2="684.1" stroke="#000" stroke-width="1.15"/>
<line x1="695.4" y1="696.1" x2="698.0" y2="686.6" stroke="#000" stroke-width="1.15"/>
<line x1="713.4" y1="724.4" x2="694.9" y2="699.5" stroke="#000" stroke-width="1.15"/>
<line x1="694.9" y1="699.5" x2="698.2" y2="690.2" stroke="#000" stroke-width="1.15"/>
<line x1="696.9" y1="702.2" x2="698.7" y2="697.0" stroke="#000" stroke-width="1.15"/>
<line x1="713.4" y1="731.7" x2="699.7" y2="703.9" stroke="#000" stroke-width="1.15"/>
<line x1="699.7" y1="703.9" x2="704.6" y2="695.3" stroke="#000" stroke-width="1.15"/>
<line x1="713.4" y1="740.7" x2="718.0" y2="711.0" stroke="#000" stroke-width="1.15"/>
<line x1="717.6" y1="713.8" x2="722.5" y2="711.5" stroke="#000" stroke-width="1.15"/>
<line x1="713.4" y1="747.8" x2="735.7" y2="728.0" stroke="#000" stroke-width="1.15"/>
<line x1="733.6" y1="729.9" x2="738.9" y2="731.2" stroke="#000" stroke-width="1.15"/>
<line x1="713.4" y1="754.1" x2="740.6" y2="742.8" stroke="#000" stroke-width="1.15"/>
<line x1="738.0" y1="743.9" x2="742.5" y2="746.9" stroke="#000" stroke-width="1.15"/>
<line x1="713.4" y1="759.0" x2="742.7" y2="752.0" stroke="#000" stroke-width="1.15"/>
<line x1="740.0" y1="752.7" x2="744.0" y2="756.3" stroke="#000" stroke-width="1.15"/>
<line x1="713.4" y1="764.7" x2="742.7" y2="758.4" stroke="#000" stroke-width="1.15"/>
<line x1="740.0" y1="759.0" x2="743.9" y2="762.8" stroke="#000" stroke-width="1.15"/>
<line x1="713.4" y1="768.2" x2="742.7" y2="763.3" stroke="#000" stroke-width="1.15"/>
<line x1="739.9" y1="763.8" x2="743.7" y2="767.7" stroke="#000" stroke-width="1.15"/>
<line x1="713.4" y1="771.1" x2="742.7" y2="766.1" stroke="#000" stroke-width="1.15"/>
<line x1="739.9" y1="766.6" x2="743.7" y2="770.5" stroke="#000" stroke-width="1.15"/>
<line x1="713.4" y1="772.5" x2="743.4" y2="767.9" stroke="#000" stroke-width="1.15"/>
<line x1="740.6" y1="768.3" x2="744.3" y2="772.3" stroke="#000" stroke-width="1.15"/>
<path d="M831.9,75.9 L826.9,115.3 L823.4,152.4 L818.3,185.9 L812.6,217.1 L800.9,250.0 L786.0,288.4 L774.2,332.2 L778.6,377.4 L768.0,421.5 L751.0,462.4 L746.0,495.5 L741.3,523.8" fill="none" stroke="#ff1a1a" stroke-width="1.3" stroke-linejoin="round" stroke-linecap="round" />
<path d="M741.3,523.8 C741.3,528.2 741.1,541.8 741.3,550.3 C741.5,558.8 742.0,568.7 742.5,575.0 C743.0,581.3 743.3,577.0 744.3,587.9 C745.3,598.8 747.7,627.4 748.5,640.2 C749.3,653.0 749.3,658.0 748.9,664.6 C748.5,671.2 747.2,675.5 746.2,680.0 C745.2,684.5 743.9,687.1 742.7,691.3 C741.5,695.5 740.4,701.4 739.2,705.4 C738.0,709.4 737.4,712.0 735.7,715.3 C734.1,718.6 731.8,722.2 729.3,725.2 C726.8,728.2 722.9,731.0 720.8,733.6 C718.7,736.2 717.4,738.3 716.6,740.7 C715.8,743.1 715.7,744.7 715.9,747.8 C716.1,750.9 717.5,755.8 718.0,759.1 C718.5,762.4 718.7,765.3 718.7,767.5 C718.7,769.7 718.1,771.7 718.0,772.5" fill="none" stroke="#ff1a1a" stroke-width="1.3" stroke-linejoin="round" stroke-linecap="round" />
<text x="712.6999999999999" y="65.8" font-size="13.5" font-weight="bold" fill="#ff0000" text-anchor="middle" letter-spacing="-1">0</text>
<text x="712.6999999999999" y="799.8" font-size="13.5" font-weight="bold" fill="#ff0000" text-anchor="middle" letter-spacing="-1">0</text>
<text x="758.3" y="65.8" font-size="13.5" font-weight="bold" fill="#ff0000" text-anchor="middle" letter-spacing="-1">40</text>
<text x="758.3" y="799.8" font-size="13.5" font-weight="bold" fill="#ff0000" text-anchor="middle" letter-spacing="-1">40</text>
<text x="803.9" y="65.8" font-size="13.5" font-weight="bold" fill="#ff0000" text-anchor="middle" letter-spacing="-1">80</text>
<text x="803.9" y="799.8" font-size="13.5" font-weight="bold" fill="#ff0000" text-anchor="middle" letter-spacing="-1">80</text>
<text x="849.5" y="65.8" font-size="13.5" font-weight="bold" fill="#ff0000" text-anchor="middle" letter-spacing="-1">120</text>
<text x="849.5" y="799.8" font-size="13.5" font-weight="bold" fill="#ff0000" text-anchor="middle" letter-spacing="-1">120</text>
<text x="760" y="813.5" font-size="12" fill="#ff0000" text-anchor="middle" stroke="#ff0000" stroke-width="0.25">Speed (kt)</text>
<line x1="804.6" y1="52" x2="804.6" y2="800" stroke="#000" stroke-width="1.9"/>
<line x1="804.6" y1="781.4" x2="813.6" y2="781.4" stroke="#000" stroke-width="1"/>
<text x="843.5" y="787.2" font-size="16.5" text-anchor="end" fill="#000" stroke="#000" stroke-width="0.15">0</text>
<line x1="804.6" y1="743.5" x2="813.6" y2="743.5" stroke="#000" stroke-width="1"/>
<text x="843.5" y="749.3" font-size="16.5" text-anchor="end" fill="#000" stroke="#000" stroke-width="0.15">2</text>
<line x1="804.6" y1="705.1" x2="813.6" y2="705.1" stroke="#000" stroke-width="1"/>
<text x="843.5" y="710.9" font-size="16.5" text-anchor="end" fill="#000" stroke="#000" stroke-width="0.15">4</text>
<line x1="804.6" y1="666.1" x2="813.6" y2="666.1" stroke="#000" stroke-width="1"/>
<text x="843.5" y="671.9" font-size="16.5" text-anchor="end" fill="#000" stroke="#000" stroke-width="0.15">6</text>
<line x1="804.6" y1="626.5" x2="813.6" y2="626.5" stroke="#000" stroke-width="1"/>
<text x="843.5" y="632.3" font-size="16.5" text-anchor="end" fill="#000" stroke="#000" stroke-width="0.15">8</text>
<line x1="804.6" y1="586.4" x2="813.6" y2="586.4" stroke="#000" stroke-width="1"/>
<text x="843.5" y="592.2" font-size="16.5" text-anchor="end" fill="#000" stroke="#000" stroke-width="0.15">10</text>
<line x1="804.6" y1="545.6" x2="813.6" y2="545.6" stroke="#000" stroke-width="1"/>
<text x="843.5" y="551.4" font-size="16.5" text-anchor="end" fill="#000" stroke="#000" stroke-width="0.15">12</text>
<line x1="804.6" y1="504.3" x2="813.6" y2="504.3" stroke="#000" stroke-width="1"/>
<text x="843.5" y="510.1" font-size="16.5" text-anchor="end" fill="#000" stroke="#000" stroke-width="0.15">14</text>
<line x1="804.6" y1="462.3" x2="813.6" y2="462.3" stroke="#000" stroke-width="1"/>
<text x="843.5" y="468.1" font-size="16.5" text-anchor="end" fill="#000" stroke="#000" stroke-width="0.15">16</text>
<line x1="804.6" y1="419.7" x2="813.6" y2="419.7" stroke="#000" stroke-width="1"/>
<text x="843.5" y="425.5" font-size="16.5" text-anchor="end" fill="#000" stroke="#000" stroke-width="0.15">18</text>
<line x1="804.6" y1="376.3" x2="813.6" y2="376.3" stroke="#000" stroke-width="1"/>
<text x="843.5" y="382.1" font-size="16.5" text-anchor="end" fill="#000" stroke="#000" stroke-width="0.15">20</text>
<line x1="804.6" y1="332.3" x2="813.6" y2="332.3" stroke="#000" stroke-width="1"/>
<text x="843.5" y="338.1" font-size="16.5" text-anchor="end" fill="#000" stroke="#000" stroke-width="0.15">22</text>
<line x1="804.6" y1="287.6" x2="813.6" y2="287.6" stroke="#000" stroke-width="1"/>
<text x="843.5" y="293.4" font-size="16.5" text-anchor="end" fill="#000" stroke="#000" stroke-width="0.15">24</text>
<line x1="804.6" y1="242.1" x2="813.6" y2="242.1" stroke="#000" stroke-width="1"/>
<text x="843.5" y="247.9" font-size="16.5" text-anchor="end" fill="#000" stroke="#000" stroke-width="0.15">26</text>
<line x1="804.6" y1="195.9" x2="813.6" y2="195.9" stroke="#000" stroke-width="1"/>
<text x="843.5" y="201.7" font-size="16.5" text-anchor="end" fill="#000" stroke="#000" stroke-width="0.15">28</text>
<line x1="804.6" y1="148.8" x2="813.6" y2="148.8" stroke="#000" stroke-width="1"/>
<text x="843.5" y="154.6" font-size="16.5" text-anchor="end" fill="#000" stroke="#000" stroke-width="0.15">30</text>
<line x1="804.6" y1="101.0" x2="813.6" y2="101.0" stroke="#000" stroke-width="1"/>
<text x="843.5" y="106.8" font-size="16.5" text-anchor="end" fill="#000" stroke="#000" stroke-width="0.15">32</text>
<text transform="translate(773.8,356) rotate(90)" font-size="16.5" textLength="138" lengthAdjust="spacingAndGlyphs" fill="#000" stroke="#000" stroke-width="0.3">Height (1000 Feet)</text>
<text x="44.8" y="58.5" font-size="16.5" text-anchor="end" fill="#000" stroke="#000" stroke-width="0.15">250</text>
<text x="44.8" y="153.5" font-size="16.5" text-anchor="end" fill="#000" stroke="#000" stroke-width="0.15">300</text>
<text x="44.8" y="303.3" font-size="16.5" text-anchor="end" fill="#000" stroke="#000" stroke-width="0.15">400</text>
<text x="44.8" y="419.5" font-size="16.5" text-anchor="end" fill="#000" stroke="#000" stroke-width="0.15">500</text>
<text x="44.8" y="594.7" font-size="16.5" text-anchor="end" fill="#000" stroke="#000" stroke-width="0.15">700</text>
<text x="44.8" y="695.9" font-size="16.5" text-anchor="end" fill="#000" stroke="#000" stroke-width="0.15">850</text>
<text x="44.8" y="780.5" font-size="16.5" text-anchor="end" fill="#000" stroke="#000" stroke-width="0.15">1000</text>
<text transform="translate(14.4,469.8) rotate(-90)" font-size="15.5" textLength="51" lengthAdjust="spacingAndGlyphs" fill="#000" stroke="#000" stroke-width="0.1">P (hPa)</text>
<text x="57" y="49.4" font-size="12" fill="#14b414" text-anchor="middle" stroke="#14b414" stroke-width="0.3">0.0</text>
<text x="57" y="64.2" font-size="12" fill="#000" text-anchor="middle" stroke="#000" stroke-width="0.2">0.0</text>
<text x="57" y="798.8" font-size="12" fill="#14b414" text-anchor="middle" stroke="#14b414" stroke-width="0.3">0.0</text>
<text x="57" y="812.9" font-size="12" fill="#000" text-anchor="middle" stroke="#000" stroke-width="0.2">0.0</text>
<text x="87.3" y="49.4" font-size="12" fill="#14b414" text-anchor="middle" stroke="#14b414" stroke-width="0.3">0.5</text>
<text x="87.3" y="64.2" font-size="12" fill="#000" text-anchor="middle" stroke="#000" stroke-width="0.2">0.5</text>
<text x="87.3" y="798.8" font-size="12" fill="#14b414" text-anchor="middle" stroke="#14b414" stroke-width="0.3">0.5</text>
<text x="87.3" y="812.9" font-size="12" fill="#000" text-anchor="middle" stroke="#000" stroke-width="0.2">0.5</text>
<text x="117.6" y="49.4" font-size="12" fill="#14b414" text-anchor="middle" stroke="#14b414" stroke-width="0.3">1.0</text>
<text x="117.6" y="64.2" font-size="12" fill="#000" text-anchor="middle" stroke="#000" stroke-width="0.2">1.0</text>
<text x="117.6" y="798.8" font-size="12" fill="#14b414" text-anchor="middle" stroke="#14b414" stroke-width="0.3">1.0</text>
<text x="117.6" y="812.9" font-size="12" fill="#000" text-anchor="middle" stroke="#000" stroke-width="0.2">1.0</text>
<text x="133.5" y="798.8" font-size="12" fill="#14b414" textLength="101" lengthAdjust="spacingAndGlyphs" stroke="#14b414" stroke-width="0.3">CloudWater (g/Kg)</text>
<text x="133.5" y="812.9" font-size="12" fill="#000" textLength="122" lengthAdjust="spacingAndGlyphs" stroke="#000" stroke-width="0.2">Grid-Scale Cloudiness</text>
<line x1="86.5" y1="800" x2="86.5" y2="806" stroke="#222" stroke-width="1"/>
<text x="86.7" y="833.8" font-size="16.5" text-anchor="middle" fill="#000" stroke="#000" stroke-width="0.15">-30</text>
<line x1="168.5" y1="800" x2="168.5" y2="806" stroke="#222" stroke-width="1"/>
<text x="169.0" y="833.8" font-size="16.5" text-anchor="middle" fill="#000" stroke="#000" stroke-width="0.15">-20</text>
<line x1="251.5" y1="800" x2="251.5" y2="806" stroke="#222" stroke-width="1"/>
<text x="251.2" y="833.8" font-size="16.5" text-anchor="middle" fill="#000" stroke="#000" stroke-width="0.15">-10</text>
<line x1="333.5" y1="800" x2="333.5" y2="806" stroke="#222" stroke-width="1"/>
<text x="333.4" y="833.8" font-size="16.5" text-anchor="middle" fill="#000" stroke="#000" stroke-width="0.15">0</text>
<line x1="415.5" y1="800" x2="415.5" y2="806" stroke="#222" stroke-width="1"/>
<text x="415.7" y="833.8" font-size="16.5" text-anchor="middle" fill="#000" stroke="#000" stroke-width="0.15">10</text>
<line x1="497.5" y1="800" x2="497.5" y2="806" stroke="#222" stroke-width="1"/>
<text x="497.9" y="833.8" font-size="16.5" text-anchor="middle" fill="#000" stroke="#000" stroke-width="0.15">20</text>
<line x1="580.5" y1="800" x2="580.5" y2="806" stroke="#222" stroke-width="1"/>
<text x="580.2" y="833.8" font-size="16.5" text-anchor="middle" fill="#000" stroke="#000" stroke-width="0.15">30</text>
<line x1="662.5" y1="800" x2="662.5" y2="806" stroke="#222" stroke-width="1"/>
<text x="662.4" y="833.8" font-size="16.5" text-anchor="middle" fill="#000" stroke="#000" stroke-width="0.15">40</text>
<text x="430" y="855" font-size="15.5" text-anchor="middle" fill="#000" stroke="#000" stroke-width="0.1">Temperature (C)</text>
<circle cx="46.7" cy="21.8" r="4.3" fill="#000"/>
<text x="57.8" y="29" font-size="20" fill="#000" stroke="#000" stroke-width="0.3" textLength="77.7" lengthAdjust="spacingAndGlyphs">Hastings</text>
<text x="142" y="27" font-size="13" fill="#000" stroke="#000" stroke-width="0.3" textLength="147" lengthAdjust="spacingAndGlyphs">-39.645°,176.766° (77,76)</text>
<text x="308" y="29" font-size="20" fill="#000" stroke="#000" stroke-width="0.3" textLength="158.5" lengthAdjust="spacingAndGlyphs">Valid 1100 NZDT</text>
<text x="470" y="28" font-size="14" fill="#000" stroke="#000" stroke-width="0.3" textLength="53.5" lengthAdjust="spacingAndGlyphs">(2200Z)</text>
<text x="530" y="29" font-size="20" fill="#000" stroke="#000" stroke-width="0.3" textLength="155.5" lengthAdjust="spacingAndGlyphs">WED 3 Dec 2025</text>
<text x="693.5" y="28" font-size="14.5" fill="#000" stroke="#000" stroke-width="0.3" textLength="126" lengthAdjust="spacingAndGlyphs">[52hrFcst@2215z]</text>
<text x="283.5" y="47.6" font-size="11.5" fill="#b4145a" textLength="296.5" lengthAdjust="spacingAndGlyphs" stroke="#b4145a" stroke-width="0.3">Plcl=910 Tlcl[C]=14 Shox=0 Pwat[cm]=4 Cape[J]= 269</text>
</svg>
</body></html>
